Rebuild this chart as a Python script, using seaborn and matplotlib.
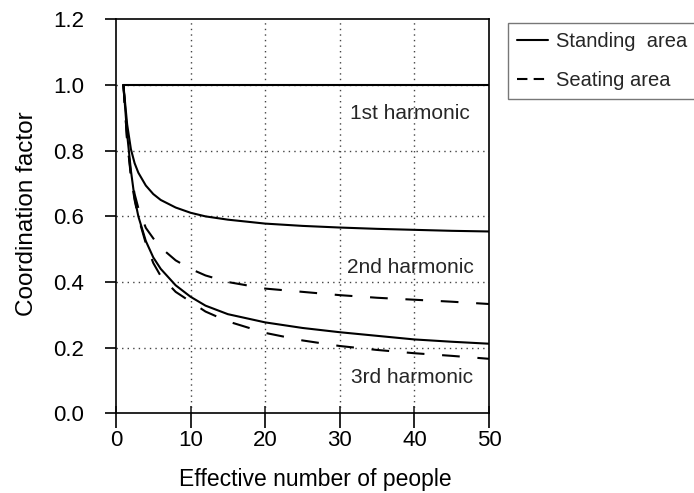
import matplotlib
matplotlib.use("Agg")
import matplotlib.pyplot as plt
import seaborn as sns
import pandas as pd
from matplotlib.lines import Line2D

sns.set_theme(style="ticks")
plt.rcParams['font.family'] = ['Liberation Sans', 'DejaVu Sans']

# Effective number of people
n_people = [1, 1.5, 2, 2.5, 3, 4, 5, 6, 8, 10, 12, 15, 20, 25, 30, 35, 40, 45, 50]
# 1st harmonic (both areas)
first_harmonic = [1.0] * 19
# 2nd harmonic
standing_2nd = [1.0, 0.88, 0.805, 0.762, 0.733, 0.694, 0.668, 0.65, 0.627, 0.611, 0.60,
                0.59, 0.578, 0.571, 0.566, 0.562, 0.559, 0.556, 0.554]
seating_2nd = [1.0, 0.83, 0.73, 0.668, 0.625, 0.565, 0.533, 0.505, 0.466, 0.44, 0.42,
               0.40, 0.38, 0.37, 0.36, 0.352, 0.346, 0.34, 0.333]
# 3rd harmonic
standing_3rd = [1.0, 0.85, 0.74, 0.655, 0.60, 0.525, 0.475, 0.44, 0.39, 0.355, 0.328,
                0.302, 0.277, 0.26, 0.247, 0.236, 0.225, 0.218, 0.212]
seating_3rd = [1.0, 0.83, 0.722, 0.65, 0.597, 0.518, 0.458, 0.418, 0.37, 0.34, 0.31,
               0.28, 0.245, 0.222, 0.205, 0.193, 0.183, 0.175, 0.166]

legend_labels = ["Standing  area", "Seating area"]
harmonic_labels = ["1st harmonic", "2nd harmonic", "3rd harmonic"]

series = {
    (legend_labels[0], "1st"): first_harmonic,
    (legend_labels[0], "2nd"): standing_2nd,
    (legend_labels[0], "3rd"): standing_3rd,
    (legend_labels[1], "2nd"): seating_2nd,
    (legend_labels[1], "3rd"): seating_3rd,
}

rows = []
for (area, harm), vals in series.items():
    for n, v in zip(n_people, vals):
        rows.append({"N": n, "factor": v, "area": area, "harmonic": harm})
df = pd.DataFrame(rows)

fig = plt.figure(figsize=(6.94, 4.93), dpi=100)
ax = fig.add_axes([0.1671, 0.1617, 0.5375, 0.7988])

for (area, harm), sub in df.groupby(["area", "harmonic"], sort=False):
    ls = "-" if area == legend_labels[0] else (0, (8.5, 8.5))
    sns.lineplot(data=sub, x="N", y="factor", ax=ax, color="black", lw=1.5,
                 linestyle=ls, legend=False, estimator=None, sort=True)

ax.set_xlim(0, 50)
ax.set_ylim(0, 1.2)
ax.set_xticks([0, 10, 20, 30, 40, 50])
ax.set_xticks([0, 10, 20, 30, 40, 50], minor=True)
ax.xaxis.remove_overlapping_locs = False
ax.set_yticks([0.0, 0.2, 0.4, 0.6, 0.8, 1.0, 1.2])
ax.set_yticklabels(["0.0", "0.2", "0.4", "0.6", "0.8", "1.0", "1.2"])
for x in [10, 20, 30, 40]:
    ax.axvline(x, color="#444444", lw=1.0, ls=(0, (1, 3)), zorder=0)
for y in [0.2, 0.4, 0.6, 0.8, 1.0]:
    ax.axhline(y, color="#444444", lw=1.0, ls=(0, (1, 3)), zorder=0)

for s in ax.spines.values():
    s.set_color("black")
    s.set_linewidth(1.2)
ax.tick_params(axis="x", which="major", direction="out", length=10.8, width=1.2,
               labelsize=16, colors="black", pad=1.5)
ax.tick_params(axis="x", which="minor", direction="in", length=4.7, width=1.2,
               labelbottom=False)
ax.tick_params(axis="y", direction="out", length=7.9, width=1.2, labelsize=16,
               colors="black", pad=15)
ax.set_xlabel("Effective number of people", fontsize=16.5, color="black")
ax.set_ylabel("Coordination factor", fontsize=17.5, color="black")
ax.xaxis.set_label_coords(0.535, -0.139)
ax.yaxis.set_label_coords(-0.209, 0.507)

ax.text(39.4, 0.897, harmonic_labels[0], ha="center", va="baseline", fontsize=15)
ax.text(39.4, 0.4275, harmonic_labels[1], ha="center", va="baseline", fontsize=15)
ax.text(39.7, 0.0924, harmonic_labels[2], ha="center", va="baseline", fontsize=15)

handles = [Line2D([], [], color="black", lw=1.5, ls="-"),
           Line2D([], [], color="black", lw=1.5, ls=(0, (5, 3)))]
leg = fig.legend(handles, legend_labels, loc="upper left",
                 bbox_to_anchor=(0.732, 0.954), frameon=True, fancybox=False,
                 fontsize=14.5, handlelength=1.55, handletextpad=0.4,
                 borderpad=0.45, labelspacing=1.0, borderaxespad=0)
leg.get_frame().set_edgecolor("#555555")
leg.get_frame().set_linewidth(1.0)

fig.savefig("out.png", dpi=100)
